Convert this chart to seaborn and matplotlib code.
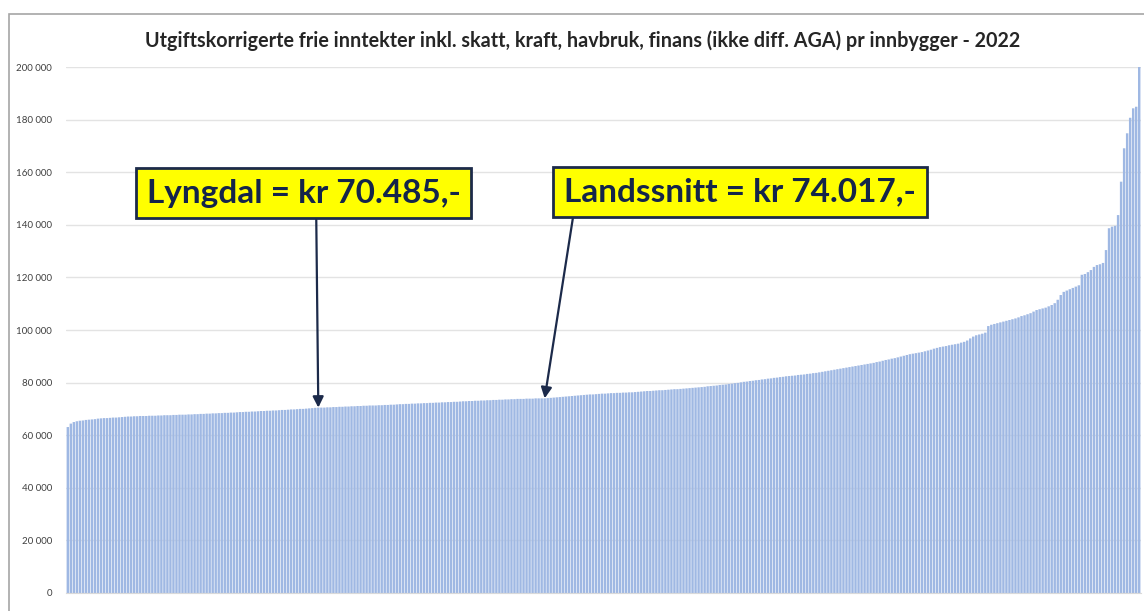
import numpy as np
import pandas as pd
import matplotlib.pyplot as plt
import seaborn as sns
from matplotlib.patches import Rectangle

# ----------------------------------
# Data (kr per innbygger, sorted, one bar per kommune)
# ----------------------------------

values = [
    63100, 64400, 65000, 65300, 65500, 65600, 65800, 65900, 66000, 66100,
    66300, 66400, 66500, 66500, 66600, 66700, 66700, 66800, 66900, 67000,
    67100, 67100, 67200, 67200, 67300, 67300, 67300, 67400, 67400, 67400,
    67500, 67500, 67600, 67600, 67600, 67700, 67700, 67800, 67800, 67800,
    67900, 67900, 68000, 68000, 68100, 68100, 68200, 68200, 68300, 68300,
    68400, 68400, 68500, 68500, 68600, 68600, 68700, 68800, 68800, 68900,
    68900, 69000, 69000, 69100, 69200, 69200, 69300, 69300, 69400, 69400,
    69500, 69600, 69600, 69700, 69800, 69800, 69900, 70000, 70000, 70100,
    70200, 70300, 70400, 70485, 70500, 70500, 70600, 70600, 70700, 70700,
    70800, 70800, 70900, 70900, 71000, 71000, 71100, 71100, 71200, 71200,
    71300, 71300, 71300, 71400, 71400, 71500, 71500, 71600, 71600, 71700,
    71800, 71800, 71900, 71900, 72000, 72000, 72100, 72100, 72200, 72200,
    72300, 72300, 72400, 72400, 72500, 72500, 72600, 72600, 72700, 72700,
    72800, 72900, 72900, 73000, 73000, 73100, 73100, 73200, 73200, 73300,
    73300, 73400, 73400, 73500, 73500, 73600, 73600, 73700, 73700, 73800,
    73800, 73800, 73900, 73900, 73900, 74000, 74000, 74000, 74017, 74100,
    74200, 74300, 74400, 74500, 74600, 74700, 74800, 74900, 75000, 75100,
    75200, 75300, 75400, 75500, 75500, 75600, 75700, 75800, 75800, 75900,
    76000, 76000, 76100, 76100, 76200, 76200, 76300, 76300, 76400, 76500,
    76600, 76700, 76800, 76800, 76900, 77000, 77100, 77100, 77200, 77300,
    77400, 77500, 77500, 77600, 77700, 77800, 77900, 78000, 78100, 78200,
    78300, 78400, 78600, 78700, 78800, 78900, 79100, 79200, 79300, 79500,
    79600, 79800, 79900, 80100, 80300, 80400, 80600, 80700, 80900, 81000,
    81200, 81300, 81500, 81600, 81800, 81900, 82100, 82200, 82400, 82500,
    82600, 82700, 82900, 83000, 83100, 83300, 83400, 83600, 83700, 83900,
    84100, 84300, 84500, 84700, 84900, 85100, 85300, 85500, 85700, 85900,
    86100, 86300, 86500, 86700, 86900, 87100, 87300, 87500, 87800, 88000,
    88300, 88600, 88800, 89100, 89300, 89600, 89900, 90200, 90500, 90800,
    91000, 91200, 91400, 91600, 91900, 92200, 92500, 92900, 93200, 93500,
    93700, 93900, 94200, 94400, 94600, 94800, 95200, 95500, 96000, 96800,
    97500, 98000, 98300, 98600, 99000, 101500, 102000, 102300, 102600, 102900,
    103200, 103500, 103800, 104100, 104400, 104800, 105300, 105600, 106000, 106400,
    107000, 107600, 107900, 108200, 108500, 109000, 109500, 110200, 111500, 113300,
    114500, 115000, 115500, 116000, 116500, 117000, 121000, 121300, 122000, 122800,
    124000, 124700, 125000, 125500, 130400, 138700, 139300, 139600, 143700, 156400,
    169100, 174800, 180700, 184300, 184900, 200000,
]

lyngdal_value = 70485
landssnitt_value = 74017

title = ("Utgiftskorrigerte frie inntekter inkl. skatt, kraft, havbruk, "
         "finans (ikke diff. AGA) pr innbygger - 2022")

y_ticks = [0, 20000, 40000, 60000, 80000, 100000, 120000, 140000, 160000, 180000, 200000]
y_labels = ["0", "20 000", "40 000", "60 000", "80 000", "100 000",
            "120 000", "140 000", "160 000", "180 000", "200 000"]

df = pd.DataFrame({"rank": range(len(values)), "value": values})

# ----------------------------------
# Plot
# ----------------------------------

sns.set_style("white")
plt.rcParams["font.family"] = ["Lato", "DejaVu Sans"]

fig = plt.figure(figsize=(11.44, 6.11), dpi=100)
ax = fig.add_axes([0.0577, 0.0295, 0.9397, 0.8608])

# outer chart frame
fig.patches.append(Rectangle(
    (9 / 1144, -0.1), 1.2, 1 - 14 / 611 + 0.1,
    transform=fig.transFigure, fill=False,
    edgecolor="#a6a6a6", linewidth=1.2
))

sns.barplot(
    data=df, x="rank", y="value",
    color="#9fb8e3", saturation=1,
    width=0.8, linewidth=0, ax=ax
)

# no pixel snapping, keeps the thin bars even
for p in ax.patches:
    p.set_snap(False)

ax.set_ylim(0, 200000)
ax.set_xlim(-0.6, len(values) - 0.4)
ax.set_yticks(y_ticks)
ax.set_yticklabels(y_labels, fontsize=7, color="#404040")
ax.set_xticks([])
ax.set_xlabel("")
ax.set_ylabel("")
ax.yaxis.grid(True, color="#e3e3e3", linewidth=1)
ax.set_axisbelow(True)
ax.tick_params(axis="y", length=0, pad=10)
for side in ["top", "right", "left"]:
    ax.spines[side].set_visible(False)
ax.spines["bottom"].set_color("#d9d9d9")

fig.text(0.509, 0.934, title, ha="center", va="center",
         fontsize=14.2, fontweight="bold", color="#262626")

# ----------------------------------
# Annotations
# ----------------------------------

lyngdal_idx = values.index(lyngdal_value)
landssnitt_idx = int(np.searchsorted(values, landssnitt_value))

box = dict(boxstyle="square,pad=0.32", facecolor="#ffff00",
           edgecolor="#1c2a4a", linewidth=2)

ax.annotate(
    "Lyngdal = kr 70.485,-",
    xy=(lyngdal_idx, lyngdal_value), xycoords="data",
    xytext=(0.221, 0.760), textcoords="axes fraction",
    ha="center", va="center", fontsize=24, fontweight="bold",
    color="#14254a", bbox=box,
    arrowprops=dict(arrowstyle="-|>", color="#1c2a4a", lw=1.6,
                    mutation_scale=16, relpos=(0.54, 0), shrinkA=0, shrinkB=0)
)

ax.annotate(
    "Landssnitt = kr 74.017,-",
    xy=(landssnitt_idx, landssnitt_value), xycoords="data",
    xytext=(0.627, 0.762), textcoords="axes fraction",
    ha="center", va="center", fontsize=24, fontweight="bold",
    color="#14254a", bbox=box,
    arrowprops=dict(arrowstyle="-|>", color="#1c2a4a", lw=1.6,
                    mutation_scale=16, relpos=(0.03, 0), shrinkA=0, shrinkB=0)
)

plt.savefig("out.png", dpi=100)
plt.close()
